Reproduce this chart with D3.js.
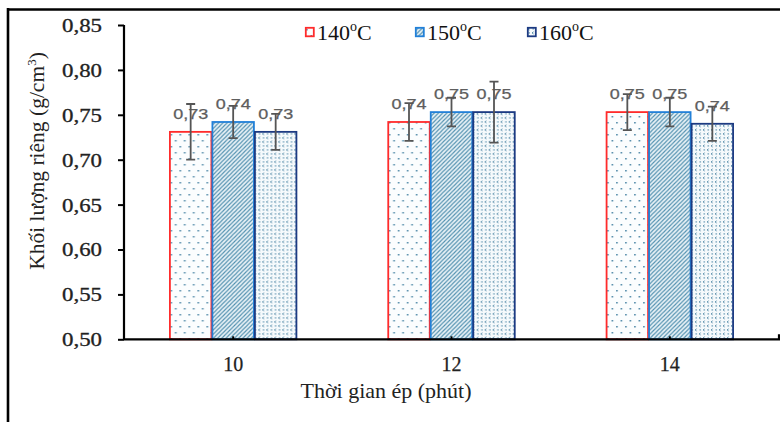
<!DOCTYPE html>
<html>
<head>
<meta charset="utf-8">
<script src="https://cdn.jsdelivr.net/npm/d3@7"></script>
<style>
  html, body { margin: 0; padding: 0; background: #fff; }
  svg { display: block; }
</style>
</head>
<body>
<svg id="chart" width="780" height="422"></svg>
<script>
// Pressing time (minutes) on the x axis
const categories = ["10", "12", "14"];
// Pressing temperatures (legend series)
const seriesNames = ["140", "150", "160"];
// Density (g/cm3) per series, one value per pressing time
const values140 = [0.731, 0.742, 0.753];
const values150 = [0.742, 0.753, 0.753];
const values160 = [0.731, 0.753, 0.740];
// Standard deviation per bar
const errors140 = [0.031, 0.021, 0.020];
const errors150 = [0.018, 0.016, 0.016];
const errors160 = [0.020, 0.034, 0.019];
const yTicks = [0.50, 0.55, 0.60, 0.65, 0.70, 0.75, 0.80, 0.85];

const seriesValues = [values140, values150, values160];
const seriesErrors = [errors140, errors150, errors160];
const strokeColors = ["#ff2b2b", "#2280d8", "#1c3a82"];
const patternIds = ["pat140", "pat150", "pat160"];

const svg = d3.select("#chart");
const comma = d3.format(".2f");
const fmt = v => comma(v).replace(".", ",");
const serif = "'Liberation Serif', 'Times New Roman', serif";

// ---- fill patterns ----
const defs = svg.append("defs");
// sparse dots
const p1 = defs.append("pattern").attr("id", "pat140")
  .attr("patternUnits", "userSpaceOnUse").attr("width", 9).attr("height", 12);
p1.append("rect").attr("width", 9).attr("height", 12).attr("fill", "#fbfdfe");
p1.append("rect").attr("x", 1).attr("y", 2).attr("width", 1.7).attr("height", 1.5).attr("fill", "#568dab");
p1.append("rect").attr("x", 5.5).attr("y", 8).attr("width", 1.7).attr("height", 1.5).attr("fill", "#568dab");
// diagonal hatch
const p2 = defs.append("pattern").attr("id", "pat150")
  .attr("patternUnits", "userSpaceOnUse").attr("width", 4.2).attr("height", 4.2);
p2.append("rect").attr("width", 4.2).attr("height", 4.2).attr("fill", "#e7f1f6");
p2.append("path").attr("d", "M-1,5.2 L5.2,-1 M-1,1 L1,-1 M3.2,5.2 L5.2,3.2")
  .attr("stroke", "#4f8fae").attr("stroke-width", 1.1);
// denser dots with small chevrons
const p3 = defs.append("pattern").attr("id", "pat160")
  .attr("patternUnits", "userSpaceOnUse").attr("width", 8).attr("height", 8);
p3.append("rect").attr("width", 8).attr("height", 8).attr("fill", "#f6fafc");
p3.append("path").attr("d", "M2.6,0.8 L1,1.9 L2.6,3").attr("fill", "none")
  .attr("stroke", "#5a8fab").attr("stroke-width", 1);
p3.append("rect").attr("x", 5.5).attr("y", 1.2).attr("width", 1.4).attr("height", 1.4).attr("fill", "#6f9fb8");
p3.append("path").attr("d", "M6.6,4.8 L5,5.9 L6.6,7").attr("fill", "none")
  .attr("stroke", "#5a8fab").attr("stroke-width", 1);
p3.append("rect").attr("x", 1.5).attr("y", 5.2).attr("width", 1.4).attr("height", 1.4).attr("fill", "#6f9fb8");

// ---- outer frame (top and left edges) ----
svg.append("line").attr("x1", 7).attr("x2", 780).attr("y1", 9.5).attr("y2", 9.5)
  .attr("stroke", "#000").attr("stroke-width", 2.6);
svg.append("line").attr("x1", 8).attr("x2", 8).attr("y1", 8).attr("y2", 422)
  .attr("stroke", "#000").attr("stroke-width", 2.6);

// ---- scales ----
const x0 = d3.scaleBand().domain(categories).range([124, 779])
  .paddingInner(0.416).paddingOuter(0.208);
const x1 = d3.scaleBand().domain(seriesNames).range([0, x0.bandwidth()]);
const y = d3.scaleLinear().domain([0.50, 0.85]).range([339.3, 25]);

// ---- bars ----
const groups = svg.append("g").selectAll("g").data(categories).join("g")
  .attr("transform", d => `translate(${x0(d)},0)`);

seriesNames.forEach((s, si) => {
  groups.append("rect")
    .attr("x", x1(s) + 0.5)
    .attr("width", x1.bandwidth() - 1)
    .attr("y", (d, i) => y(seriesValues[si][i]))
    .attr("height", (d, i) => y(0.50) - y(seriesValues[si][i]))
    .attr("fill", `url(#${patternIds[si]})`)
    .attr("stroke", strokeColors[si])
    .attr("stroke-width", 1.8);
});

// ---- value labels ----
seriesNames.forEach((s, si) => {
  groups.append("text")
    .attr("x", x1(s) + x1.bandwidth() / 2)
    .attr("y", (d, i) => y(seriesValues[si][i]) - 13)
    .attr("text-anchor", "middle")
    .attr("font-family", "'Liberation Sans', Arial, sans-serif")
    .attr("font-size", 14)
    .attr("fill", "#5e5e5e")
    .attr("stroke", "#5e5e5e").attr("stroke-width", 0.25)
    .attr("textLength", 35)
    .attr("lengthAdjust", "spacingAndGlyphs")
    .text((d, i) => fmt(seriesValues[si][i]));
});

// ---- error bars ----
seriesNames.forEach((s, si) => {
  const cx = x1(s) + x1.bandwidth() / 2;
  const eb = groups.append("g").attr("stroke", "#555").attr("stroke-width", 1.8).attr("fill", "none");
  eb.append("path").attr("d", (d, i) => {
    const v = seriesValues[si][i], e = seriesErrors[si][i];
    const t = y(v + e), b = y(v - e);
    return `M${cx},${t}V${b}M${cx - 4.5},${t}H${cx + 4.5}M${cx - 4.5},${b}H${cx + 4.5}`;
  });
});

// ---- y axis ----
const yAxis = svg.append("g").attr("transform", "translate(124,0)")
  .call(d3.axisLeft(y).tickValues(yTicks).tickSize(6).tickFormat(fmt));
yAxis.select(".domain").attr("stroke", "#000").attr("stroke-width", 2.2)
  .attr("d", `M0,${y(0.85)}V${y(0.50)}`);
yAxis.selectAll(".tick line").attr("stroke", "#000").attr("stroke-width", 2);
yAxis.selectAll(".tick text")
  .attr("x", -22).attr("dy", "0.36em")
  .attr("font-family", serif)
  .attr("font-size", 18).attr("fill", "#222")
  .attr("stroke", "#222").attr("stroke-width", 0.3)
  .attr("textLength", 40).attr("lengthAdjust", "spacingAndGlyphs");

// ---- x axis ----
const xAxis = svg.append("g").attr("transform", `translate(0,${y(0.50)})`)
  .call(d3.axisBottom(x0).tickSize(-3).tickSizeOuter(0));
xAxis.select(".domain").attr("stroke", "#000").attr("stroke-width", 2.2)
  .attr("d", "M124,0H779V-5");
xAxis.selectAll(".tick line").attr("stroke", "#000").attr("stroke-width", 2);
xAxis.selectAll(".tick text")
  .attr("y", 32).attr("dy", 0)
  .attr("font-family", serif)
  .attr("font-size", 20).attr("fill", "#222")
  .attr("stroke", "#222").attr("stroke-width", 0.25);

// ---- axis titles ----
svg.append("text")
  .attr("x", 386)
  .attr("y", 398)
  .attr("text-anchor", "middle")
  .attr("font-family", serif)
  .attr("font-size", 22).attr("fill", "#222")
  .text("Thời gian ép (phút)");

const yTitle = svg.append("text")
  .attr("transform", "translate(44,161) rotate(-90)")
  .attr("text-anchor", "middle")
  .attr("font-family", serif)
  .attr("font-size", 21.5).attr("fill", "#222");
yTitle.append("tspan").text("Khối lượng riêng (g/cm");
yTitle.append("tspan").attr("font-size", 13).attr("dy", -8).text("3");
yTitle.append("tspan").attr("dy", 8).text(")");

// ---- legend ----
const legendX = [305, 415, 527];
const legend = svg.append("g").selectAll("g").data(seriesNames).join("g")
  .attr("transform", (d, i) => `translate(${legendX[i]},27)`);
legend.append("rect")
  .attr("x", 0.8).attr("y", 0.8).attr("width", 8).attr("height", 8.5)
  .attr("fill", (d, i) => `url(#${patternIds[i]})`)
  .attr("stroke", (d, i) => strokeColors[i]).attr("stroke-width", 1.8);
const lt = legend.append("text")
  .attr("x", 12).attr("y", 12.5)
  .attr("font-family", serif)
  .attr("font-size", 22).attr("fill", "#111");
lt.append("tspan").text(d => d);
lt.append("tspan").attr("font-size", 14).attr("dy", -9).text("o");
lt.append("tspan").attr("dy", 9).text("C");
</script>
</body>
</html>
